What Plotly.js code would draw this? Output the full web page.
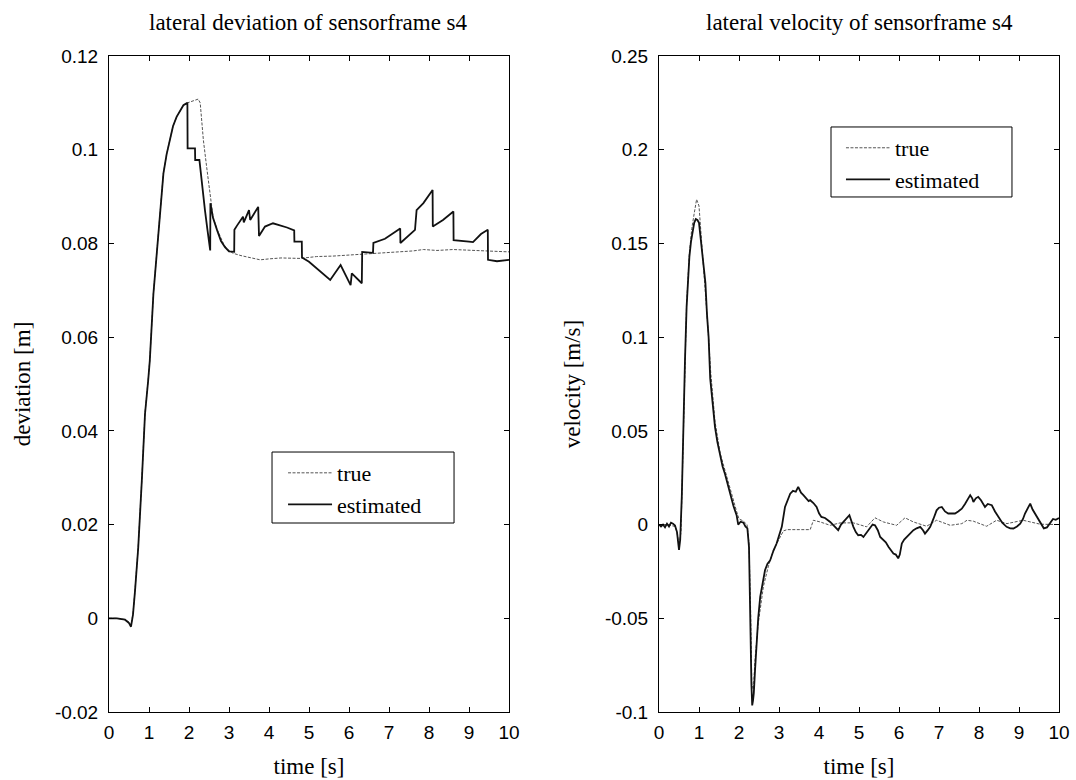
<!DOCTYPE html>
<html>
<head>
<meta charset="utf-8">
<script src="https://cdn.plot.ly/plotly-3.0.1.min.js"></script>
<style>
  html, body { margin: 0; padding: 0; background: #fff; }
  #chart { width: 1076px; height: 780px; }
</style>
</head>
<body>
<div id="chart"></div>
<script>
// ---------- data: lateral deviation (left panel) ----------
const devTrueT = [0, 0.2, 0.4, 0.5, 0.55, 0.6, 0.65, 0.73, 0.82, 0.9, 0.98, 1.02, 1.11, 1.19, 1.27, 1.36, 1.44, 1.52, 1.6, 1.69, 1.78, 1.86, 1.96, 2.05, 2.15, 2.23, 2.28, 2.36, 2.44, 2.53, 2.6, 2.7, 2.78, 2.86, 2.94, 3.02, 3.1, 3.3, 3.5, 3.78, 4.0, 4.3, 4.78, 5.19, 5.6, 6.0, 6.28, 6.7, 7.28, 7.6, 7.86, 8.2, 8.6, 9.0, 9.44, 9.7, 10];
const devTrueY = [0, 0, -0.0003, -0.0008, -0.0015, 0.001, 0.006, 0.0152, 0.0295, 0.0438, 0.051, 0.0551, 0.0693, 0.0779, 0.0857, 0.095, 0.099, 0.102, 0.105, 0.107, 0.1085, 0.1095, 0.110, 0.1103, 0.1106, 0.1108, 0.1100, 0.102, 0.0964, 0.0907, 0.0857, 0.0830, 0.0814, 0.0800, 0.0789, 0.0783, 0.0779, 0.0774, 0.0770, 0.0765, 0.0767, 0.0769, 0.0768, 0.0772, 0.0773, 0.0775, 0.0777, 0.0778, 0.0782, 0.0784, 0.0787, 0.0785, 0.0787, 0.0785, 0.0784, 0.0783, 0.0782];

const devEstT = [0, 0.2, 0.4, 0.5, 0.55, 0.6, 0.65, 0.73, 0.82, 0.9, 0.98, 1.02, 1.11, 1.19, 1.27, 1.36, 1.44, 1.52, 1.6, 1.69, 1.78, 1.86, 1.96, 1.965, 2.15, 2.155, 2.26, 2.33, 2.4, 2.46, 2.53, 2.535, 2.6, 2.7, 2.8, 2.9, 3.0, 3.13, 3.135, 3.2, 3.35, 3.37, 3.5, 3.53, 3.73, 3.75, 3.9, 4.1, 4.3, 4.45, 4.63, 4.635, 4.82, 4.825, 5.0, 5.25, 5.53, 5.79, 6.04, 6.07, 6.32, 6.33, 6.6, 6.61, 6.9, 7.28, 7.285, 7.65, 7.69, 7.86, 8.09, 8.095, 8.35, 8.61, 8.615, 9.0, 9.1, 9.3, 9.47, 9.475, 9.7, 10];
const devEstY = [0, 0, -0.0003, -0.001, -0.0018, 0.0008, 0.0058, 0.015, 0.0293, 0.0436, 0.0508, 0.055, 0.0692, 0.0778, 0.0856, 0.0949, 0.099, 0.102, 0.105, 0.107, 0.1085, 0.1095, 0.110, 0.1003, 0.1003, 0.0978, 0.0978, 0.092, 0.087, 0.083, 0.0785, 0.0886, 0.0855, 0.0829, 0.0805, 0.0792, 0.0783, 0.0782, 0.0829, 0.0838, 0.0857, 0.0845, 0.0871, 0.0850, 0.0878, 0.0816, 0.0836, 0.0843, 0.0838, 0.0834, 0.0828, 0.0804, 0.0804, 0.0770, 0.0761, 0.0743, 0.0722, 0.0754, 0.0711, 0.0736, 0.0715, 0.0782, 0.0780, 0.0801, 0.0810, 0.0832, 0.0801, 0.0829, 0.0871, 0.0886, 0.0914, 0.0836, 0.0850, 0.0868, 0.0807, 0.0804, 0.0803, 0.0820, 0.0829, 0.0765, 0.0762, 0.0765];

// ---------- data: lateral velocity (right panel) ----------
const velTrueT = [0, 0.2, 0.4, 0.45, 0.5, 0.55, 0.6, 0.65, 0.69, 0.76, 0.82, 0.88, 0.94, 1.0, 1.07, 1.15, 1.23, 1.29, 1.4, 1.53, 1.65, 1.78, 1.94, 2.0, 2.1, 2.2, 2.25, 2.29, 2.32, 2.36, 2.4, 2.48, 2.61, 2.73, 2.86, 3.03, 3.11, 3.2, 3.5, 3.78, 3.86, 4.03, 4.28, 4.53, 4.86, 5.19, 5.4, 5.61, 5.94, 6.15, 6.36, 6.69, 6.94, 7.28, 7.57, 7.7, 7.86, 8.19, 8.44, 8.7, 9.1, 9.53, 10];
const velTrueY = [0, 0, -0.001, -0.004, -0.011, -0.004, 0.04, 0.085, 0.118, 0.145, 0.158, 0.166, 0.1735, 0.170, 0.150, 0.131, 0.103, 0.082, 0.055, 0.038, 0.029, 0.018, 0.007, 0.003, 0.002, 0.000, -0.010, -0.045, -0.085, -0.088, -0.072, -0.053, -0.033, -0.0226, -0.0137, -0.0066, -0.0034, -0.0027, -0.0027, -0.0027, 0.0023, 0.0014, -0.0004, 0.0009, 0.0009, -0.0012, 0.0036, 0.0014, -0.0004, 0.0036, 0.0014, -0.0009, 0.0023, -0.0004, 0.0005, 0.0023, 0.0018, -0.0009, 0.0023, 0.0005, 0.0023, 0.0002, 0.0];

const velEstT = [0, 0.05, 0.1, 0.15, 0.2, 0.25, 0.3, 0.35, 0.4, 0.45, 0.5, 0.53, 0.57, 0.61, 0.65, 0.69, 0.72, 0.76, 0.8, 0.84, 0.88, 0.92, 0.96, 1.0, 1.04, 1.08, 1.12, 1.16, 1.2, 1.24, 1.28, 1.34, 1.4, 1.46, 1.53, 1.59, 1.65, 1.72, 1.78, 1.86, 1.94, 1.98, 2.04, 2.11, 2.16, 2.21, 2.25, 2.27, 2.29, 2.31, 2.33, 2.35, 2.37, 2.4, 2.44, 2.48, 2.53, 2.59, 2.65, 2.71, 2.78, 2.86, 2.94, 3.0, 3.07, 3.15, 3.22, 3.28, 3.35, 3.42, 3.48, 3.55, 3.61, 3.68, 3.74, 3.78, 3.86, 3.94, 4.0, 4.06, 4.15, 4.28, 4.38, 4.48, 4.55, 4.61, 4.68, 4.76, 4.86, 4.92, 4.98, 5.05, 5.11, 5.2, 5.28, 5.34, 5.4, 5.47, 5.53, 5.6, 5.67, 5.74, 5.8, 5.86, 5.92, 5.98, 6.02, 6.07, 6.13, 6.19, 6.27, 6.36, 6.44, 6.53, 6.6, 6.65, 6.72, 6.78, 6.86, 6.94, 7.0, 7.07, 7.15, 7.23, 7.32, 7.4, 7.48, 7.57, 7.65, 7.72, 7.78, 7.83, 7.86, 7.92, 7.98, 8.05, 8.15, 8.22, 8.32, 8.4, 8.48, 8.58, 8.69, 8.78, 8.86, 8.95, 9.03, 9.1, 9.15, 9.22, 9.28, 9.34, 9.4, 9.48, 9.55, 9.62, 9.7, 9.78, 9.85, 9.92, 10];
const velEstY = [0.0, -0.001, 0.0, -0.0015, 0.0005, -0.001, 0.001, 0.0005, -0.0005, -0.004, -0.0135, -0.008, 0.015, 0.056, 0.088, 0.116, 0.13, 0.143, 0.151, 0.157, 0.161, 0.163, 0.1625, 0.161, 0.152, 0.146, 0.137, 0.129, 0.112, 0.100, 0.078, 0.063, 0.052, 0.044, 0.036, 0.031, 0.027, 0.021, 0.0165, 0.010, 0.005, 0.0, 0.0015, 0.001, -0.001, -0.002, -0.012, -0.03, -0.06, -0.085, -0.0965, -0.094, -0.090, -0.078, -0.060, -0.050, -0.0386, -0.031, -0.0244, -0.021, -0.019, -0.014, -0.0101, -0.006, -0.0012, 0.0094, 0.0135, 0.0165, 0.018, 0.0175, 0.0201, 0.017, 0.0157, 0.014, 0.0125, 0.013, 0.0115, 0.0094, 0.006, 0.0041, 0.0035, 0.0014, -0.001, -0.003, 0.0, 0.0014, 0.003, 0.005, -0.0012, -0.004, -0.0057, -0.0055, -0.0066, -0.004, -0.0012, 0.0, -0.0004, -0.003, -0.0066, -0.008, -0.0095, -0.012, -0.0135, -0.0155, -0.016, -0.018, -0.016, -0.0101, -0.008, -0.0066, -0.005, -0.003, -0.002, -0.0012, -0.003, -0.0048, -0.003, -0.0012, 0.003, 0.0076, 0.009, 0.0094, 0.007, 0.0059, 0.006, 0.0059, 0.007, 0.0085, 0.011, 0.014, 0.0157, 0.014, 0.0121, 0.014, 0.0148, 0.013, 0.0094, 0.011, 0.0103, 0.007, 0.0041, 0.001, -0.0012, -0.002, -0.0021, -0.001, 0.0005, 0.003, 0.0059, 0.009, 0.0112, 0.008, 0.0059, 0.0032, 0.001, -0.002, -0.0015, 0.001, 0.003, 0.0025, 0.0035];

// ---------- tick labels ----------
const timeTicks = [0, 1, 2, 3, 4, 5, 6, 7, 8, 9, 10];
const timeTickText = ['0', '1', '2', '3', '4', '5', '6', '7', '8', '9', '10'];
const devTicks = [-0.02, 0, 0.02, 0.04, 0.06, 0.08, 0.1, 0.12];
const devTickText = ['-0.02', '0', '0.02', '0.04', '0.06', '0.08', '0.1', '0.12'];
const velTicks = [-0.1, -0.05, 0, 0.05, 0.1, 0.15, 0.2, 0.25];
const velTickText = ['-0.1', '-0.05', '0', '0.05', '0.1', '0.15', '0.2', '0.25'];

const serif = 'Liberation Serif, Times New Roman, serif';
const sans = 'Liberation Sans, Arial, sans-serif';

const trueLine = {color: '#555', width: 1, dash: '3px,1.5px'};
const estLine = {color: '#111', width: 1.8};

const traces = [
  {x: devTrueT, y: devTrueY, type: 'scatter', mode: 'lines', name: 'true', line: trueLine, xaxis: 'x', yaxis: 'y', legend: 'legend'},
  {x: devEstT, y: devEstY, type: 'scatter', mode: 'lines', name: 'estimated', line: estLine, xaxis: 'x', yaxis: 'y', legend: 'legend'},
  {x: velTrueT, y: velTrueY, type: 'scatter', mode: 'lines', name: 'true', line: trueLine, xaxis: 'x2', yaxis: 'y2', legend: 'legend2'},
  {x: velEstT, y: velEstY, type: 'scatter', mode: 'lines', name: 'estimated', line: estLine, xaxis: 'x2', yaxis: 'y2', legend: 'legend2'}
];

function xAxis(domain, anchor) {
  return {
    domain: domain, anchor: anchor, range: [0, 10],
    tickvals: timeTicks, ticktext: timeTickText,
    ticks: 'inside', ticklen: 5, tickcolor: '#000', mirror: 'ticks',
    showline: true, linecolor: '#000', linewidth: 1,
    showgrid: false, zeroline: false,
    tickfont: {family: sans, size: 19, color: '#000'},
    ticklabelstandoff: 3,
    title: {text: 'time [s]', font: {family: serif, size: 23, color: '#000'}, standoff: 16}
  };
}
function yAxis(range, vals, text, title, anchor) {
  return {
    anchor: anchor, range: range,
    tickvals: vals, ticktext: text,
    ticks: 'inside', ticklen: 5, tickcolor: '#000', mirror: 'ticks',
    showline: true, linecolor: '#000', linewidth: 1,
    showgrid: false, zeroline: false,
    tickfont: {family: sans, size: 19, color: '#000'},
    ticklabelstandoff: 6,
    title: {text: title, font: {family: serif, size: 23, color: '#000'}, standoff: 17}
  };
}

const legendBase = {
  font: {family: serif, size: 22, color: '#000'},
  bgcolor: 'rgba(0,0,0,0)', borderwidth: 0,
  xanchor: 'left', yanchor: 'top', xref: 'paper', yref: 'paper',
  tracegroupgap: 0, itemwidth: 44
};

const layout = {
  width: 1076, height: 780,
  margin: {l: 109, r: 17, t: 56, b: 68},
  paper_bgcolor: '#fff', plot_bgcolor: '#fff',
  showlegend: true,
  xaxis: xAxis([0, 0.42105], 'y'),
  yaxis: yAxis([-0.02, 0.12], devTicks, devTickText, 'deviation [m]', 'x'),
  xaxis2: xAxis([0.57895, 1], 'y2'),
  yaxis2: yAxis([-0.1, 0.25], velTicks, velTickText, 'velocity [m/s]', 'x2'),
  legend: Object.assign({}, legendBase, {x: 0.1832, y: 0.3963}),
  legend2: Object.assign({}, legendBase, {x: 0.7705, y: 0.8918}),
  shapes: [
    {type: 'rect', xref: 'paper', yref: 'paper', x0: 0.1716, x1: 0.3632, y0: 0.2881, y1: 0.3963, line: {color: '#000', width: 1}, fillcolor: 'rgba(0,0,0,0)', layer: 'above'},
    {type: 'rect', xref: 'paper', yref: 'paper', x0: 0.76, x1: 0.9505, y0: 0.7851, y1: 0.8918, line: {color: '#000', width: 1}, fillcolor: 'rgba(0,0,0,0)', layer: 'above'}
  ],
  annotations: [
    {text: 'lateral deviation of sensorframe s4', xref: 'x domain', yref: 'paper', x: 0.5, y: 1.0518, xanchor: 'center', yanchor: 'middle', showarrow: false, font: {family: serif, size: 23, color: '#000'}},
    {text: 'lateral velocity of sensorframe s4', xref: 'x2 domain', yref: 'paper', x: 0.5, y: 1.0518, xanchor: 'center', yanchor: 'middle', showarrow: false, font: {family: serif, size: 23, color: '#000'}}
  ]
};

Plotly.newPlot('chart', traces, layout, {staticPlot: true, displayModeBar: false});
</script>
</body>
</html>
